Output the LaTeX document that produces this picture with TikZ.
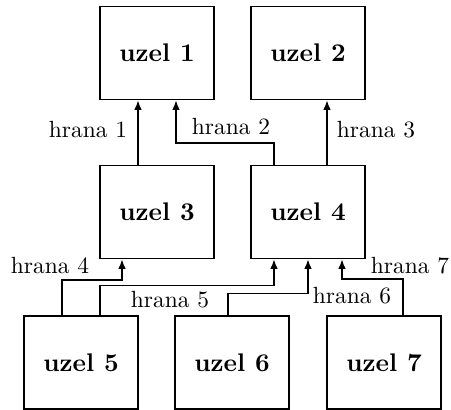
\documentclass[tikz,border=0pt]{standalone}
\usetikzlibrary{calc,arrows.meta}
\begin{document}
\begin{tikzpicture}[x=0.4273pt,y=-0.4273pt,
  uzel/.style={draw,line width=0.8pt,minimum width=48.7pt,minimum height=39.7pt,inner sep=0pt,
    font=\fontsize{10.9}{13}\selectfont\bfseries},
  edge/.style={line width=0.55pt,-{Latex[length=4pt,width=3.2pt]}},
  lab/.style={inner sep=0pt,font=\fontsize{10}{12}\selectfont}]
\useasboundingbox (0,0) rectangle (451,409);
\node[uzel] (u1) at (157,53) {uzel 1};
\node[uzel] (u2) at (308,53) {uzel 2};
\node[uzel] (u3) at (157,212) {uzel 3};
\node[uzel] (u4) at (308,212) {uzel 4};
\node[uzel] (u5) at (81,362.5) {uzel 5};
\node[uzel] (u6) at (232,362.5) {uzel 6};
\node[uzel] (u7) at (384,362.5) {uzel 7};
% upper edges
\draw[edge] ($(u3.north)+(-19,0)$) -- ($(u1.south)+(-19,0)$);
\draw[edge] ($(u4.north)+(-34,0)$) -- ++(0,-21.5) -| ($(u1.south)+(19,0)$);
\draw[edge] ($(u4.north)+(19,0)$) -- ($(u2.south)+(19,0)$);
% lower edges
\draw[edge] ($(u5.north)+(-19,0)$) -- ++(0,-35) -| ($(u3.south)+(-35,0)$);
\draw[edge] ($(u5.north)+(19,0)$) -- ++(0,-29.5) -| ($(u4.south)+(-34,0)$);
\draw[edge] ($(u6.north)+(-4,0)$) -- ++(0,-21.5) -| (u4.south);
\draw[edge] ($(u7.north)+(19,0)$) -- ++(0,-36) -| ($(u4.south)+(34,0)$);
% labels
\node[lab] (l1) at (88,130) {hrana 1};
\node[lab] (l2) at (231,127) {hrana 2};
\node[lab] (l3) at (376,130) {hrana 3};
\node[lab] (l4) at (50,266) {hrana 4};
\node[lab] (l5) at (170,300) {hrana 5};
\node[lab] (l6) at (352,296) {hrana 6};
\node[lab] (l7) at (410,266) {hrana 7};
\end{tikzpicture}
\end{document}
